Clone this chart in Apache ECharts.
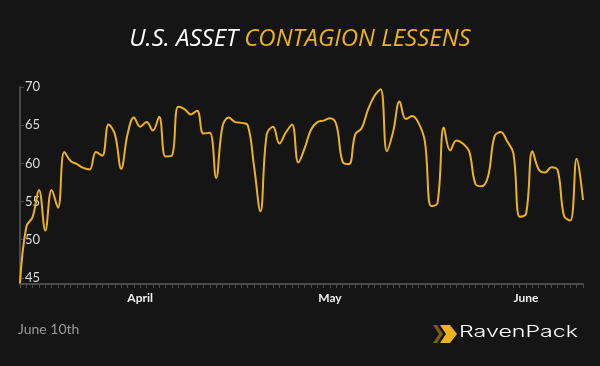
<!DOCTYPE html>
<html>
<head>
<meta charset="utf-8">
<script src="https://cdn.jsdelivr.net/npm/echarts@6/dist/echarts.min.js"></script>
<style>
html,body{margin:0;padding:0;background:#151515;}
#chart{width:600px;height:366px;}
</style>
</head>
<body>
<div id="chart"></div>
<script>
// Daily dates from March 13 to June 10
var startDate = '2020-03-13';
var endDate = '2020-06-10';
var monthLabels = {'04': 'April', '05': 'May', '06': 'June'};
var yTicks = [45, 50, 55, 60, 65, 70];

var values = [
  44.3, 51.7, 53.0, 56.5, 51.2, 56.5, 54.2, 61.5, 60.3, 59.9,
  59.4, 59.2, 61.5, 61.0, 65.1, 63.8, 59.3, 63.8, 66.0, 64.8,
  65.4, 64.3, 66.1, 60.9, 61.0, 67.4, 67.1, 66.4, 66.9, 63.9,
  64.0, 58.1, 64.8, 66.0, 65.4, 65.3, 65.0, 59.6, 53.7, 63.8,
  64.8, 62.6, 64.0, 65.1, 60.1, 62.0, 64.4, 65.4, 65.6, 65.9,
  65.1, 60.2, 59.9, 63.8, 64.6, 67.0, 68.8, 69.7, 61.6, 64.2,
  68.1, 65.8, 66.2, 65.3, 62.9, 54.4, 54.8, 64.7, 61.7, 63.0,
  62.6, 61.6, 57.3, 57.0, 58.3, 63.5, 64.1, 62.9, 61.3, 53.0,
  53.4, 61.6, 59.2, 58.8, 59.5, 59.1, 53.1, 52.5, 60.6, 55.2
];

var categories = [];
(function(){
  var d = new Date(startDate + 'T00:00:00Z');
  var e = new Date(endDate + 'T00:00:00Z');
  while (d <= e) {
    categories.push(d.toISOString().slice(0, 10));
    d.setUTCDate(d.getUTCDate() + 1);
  }
})();

var chart = echarts.init(document.getElementById('chart'), null, {renderer: 'canvas'});
var gold = '#EDB220';
var option = {
  backgroundColor: '#151515',
  animation: false,
  title: {
    text: '{w|U.S. ASSET }{g|CONTAGION LESSENS}',
    left: 'center',
    top: 22,
    textStyle: {
      fontWeight: 'normal',
      rich: {
        w: {color: '#ffffff', fontFamily: 'Open Sans', fontStyle: 'italic', fontWeight: 'normal', fontSize: 24},
        g: {color: gold, fontFamily: 'Open Sans', fontStyle: 'italic', fontWeight: 'normal', fontSize: 24}
      }
    }
  },
  grid: {left: 20, right: 17, top: 87, bottom: 82},
  xAxis: {
    type: 'category',
    boundaryGap: false,
    data: categories,
    axisLine: {lineStyle: {color: '#4a4a4a', width: 2}},
    axisTick: {show: true, interval: 0, length: 4, lineStyle: {color: '#4a4a4a'}},
    axisLabel: {
      interval: function (idx, val) { return val.slice(8) === '01'; },
      formatter: function (val) { return monthLabels[val.slice(5, 7)] || ''; },
      color: '#f0f0f0',
      fontFamily: 'Lato',
      fontWeight: 'bold',
      fontSize: 12,
      margin: 8
    },
    splitLine: {show: false}
  },
  yAxis: {
    type: 'value',
    min: 44.2,
    max: 70,
    axisLine: {show: true, lineStyle: {color: '#4a4a4a', width: 2}},
    axisTick: {show: true, inside: true, length: 4, customValues: yTicks, lineStyle: {color: '#4a4a4a'}},
    axisLabel: {
      inside: true,
      customValues: yTicks,
      color: '#dddddd',
      fontFamily: 'Lato',
      fontSize: 13,
      margin: 5
    },
    splitLine: {show: false}
  },
  series: [{
    type: 'line',
    data: values,
    smooth: 0.4,
    showSymbol: false,
    lineStyle: {color: gold, width: 2}
  }],
  graphic: [
    {type: 'text', left: 18, top: 322, style: {text: 'June 10th', fill: '#9a9a9a', font: '14px Lato'}},
    {type: 'polygon', shape: {points: [[440, 325], [450, 325], [457, 334], [450, 343], [440, 343], [446, 334]]}, style: {fill: gold}},
    {type: 'polygon', shape: {points: [[433, 325], [437, 325], [443, 334], [437, 343], [433, 343], [439, 334]]}, style: {fill: '#7a5e12'}},
    {type: 'text', x: 459, y: 324, scaleX: 1.45, scaleY: 1,
      style: {x: 0, y: 0, text: 'RavenPack', fill: '#ffffff', font: '300 16px Inter', verticalAlign: 'top', align: 'left'}}
  ]
};
chart.setOption(option);
</script>
</body>
</html>
